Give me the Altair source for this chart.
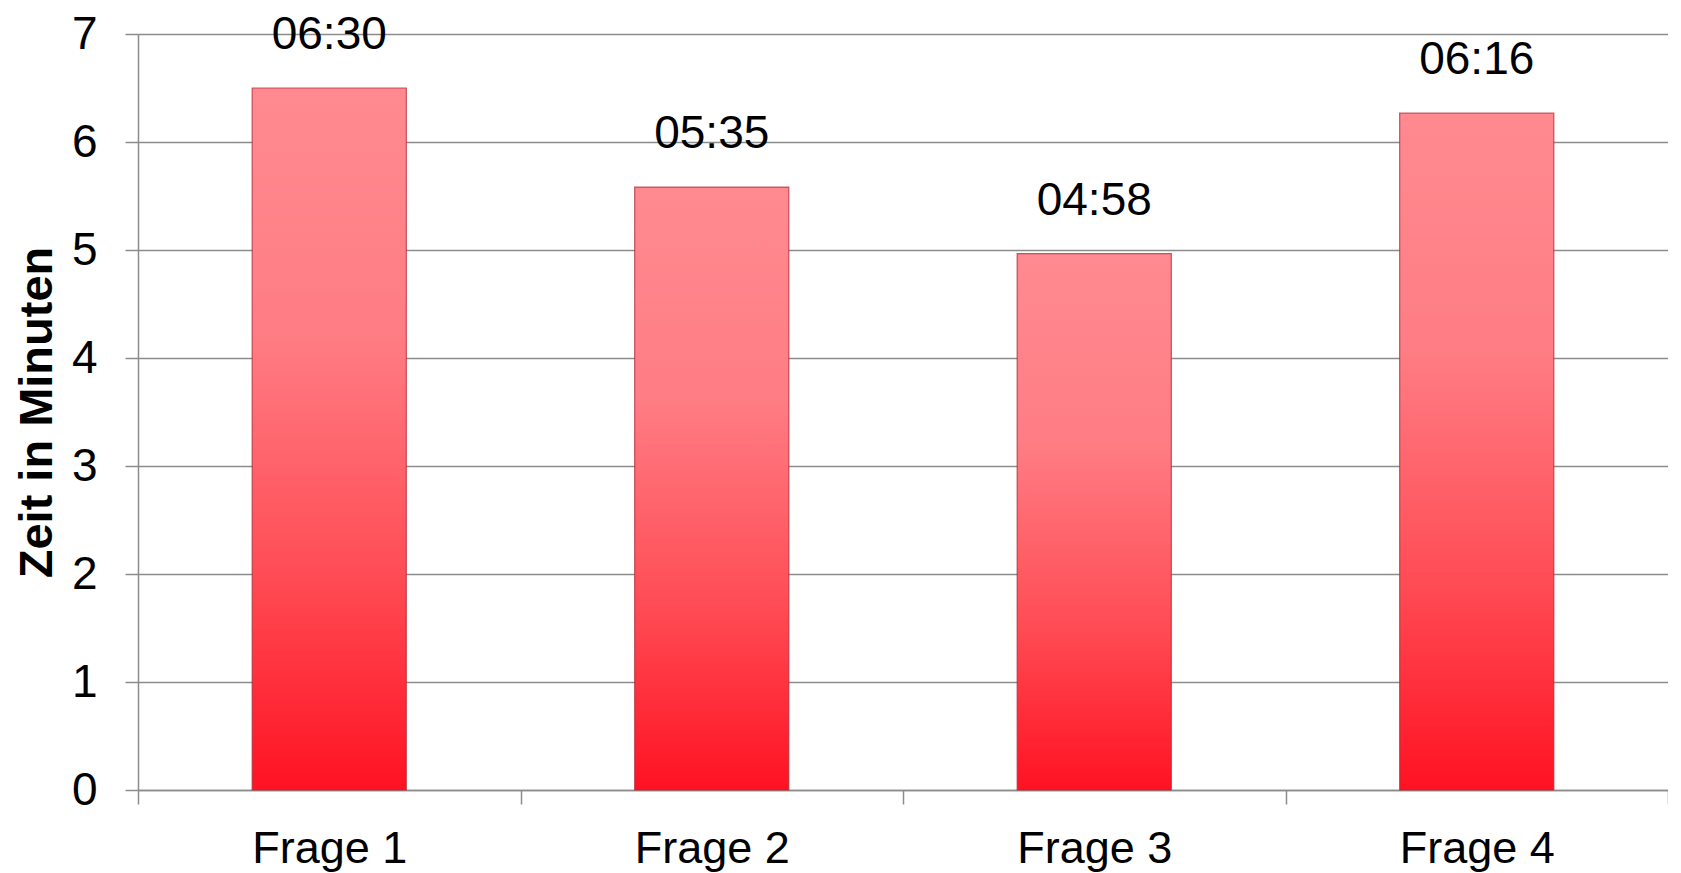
import altair as alt
import pandas as pd

categories = ["Frage 1", "Frage 2", "Frage 3", "Frage 4"]
minutes = [6.5, 5.583, 4.967, 6.267]
time_labels = ["06:30", "05:35", "04:58", "06:16"]

df = pd.DataFrame({"Frage": categories, "Zeit": minutes, "Label": time_labels})

FONT = "Liberation Sans"
GRID = "#8c8c8c"

x_enc = alt.X(
    "Frage:N",
    sort=categories,
    scale=alt.Scale(paddingInner=0, paddingOuter=0),
    axis=alt.Axis(
        title=None,
        labelAngle=0,
        labelFont=FONT,
        labelFontSize=45,
        labelColor="black",
        labelPadding=22,
        tickBand="extent",
        tickSize=14,
        tickColor=GRID,
        tickWidth=1.5,
        domainColor=GRID,
        domainWidth=1.5,
        grid=False,
    ),
)

y_enc = alt.Y(
    "Zeit:Q",
    scale=alt.Scale(domain=[0, 7], nice=False),
    axis=alt.Axis(
        title="Zeit in Minuten",
        titleFont=FONT,
        titleFontSize=47,
        titleFontWeight="bold",
        titleColor="black",
        titleX=-101,
        titleY=378,
        titleAngle=270,
        titleAlign="center",
        titleBaseline="middle",
        values=[0, 1, 2, 3, 4, 5, 6, 7],
        format="d",
        labelFont=FONT,
        labelFontSize=46,
        labelColor="black",
        labelPadding=28,
        tickSize=13,
        tickColor=GRID,
        tickWidth=1.5,
        domainColor=GRID,
        domainWidth=1.5,
        gridColor=GRID,
        gridWidth=1.5,
    ),
)

bars = alt.Chart(df).mark_bar(
    width={"band": 0.403},
    color=alt.Gradient(
        gradient="linear",
        x1=0, x2=0, y1=0, y2=1,
        stops=[
            alt.GradientStop(color="#ff8a90", offset=0),
            alt.GradientStop(color="#ff7d84", offset=0.35),
            alt.GradientStop(color="#ff4b54", offset=0.7),
            alt.GradientStop(color="#ff1222", offset=1),
        ],
    ),
    stroke="#b02a35",
    strokeWidth=1.2,
    strokeOpacity=0.75,
).encode(x=x_enc, y=y_enc)

labels = alt.Chart(df).mark_text(
    font=FONT,
    fontSize=46,
    color="black",
    baseline="alphabetic",
    dy=-39,
).encode(x=alt.X("Frage:N", sort=categories), y="Zeit:Q", text="Label:N")

chart = (
    alt.layer(bars, labels)
    .properties(
        width=1530,
        height=756,
        autosize=alt.AutoSizeParams(type="none"),
        padding={"left": 130, "top": 26, "right": 0, "bottom": 84},
    )
    .configure_view(stroke=None)
    .configure(background="white")
)

chart.save("out.html", embed_options={"renderer": "svg", "actions": False})
